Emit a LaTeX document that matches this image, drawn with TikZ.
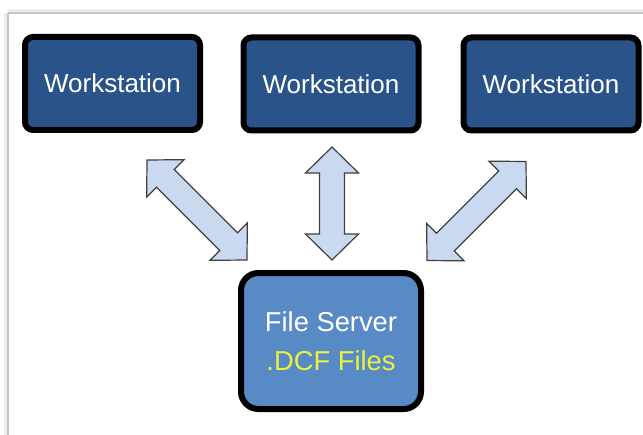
\documentclass[tikz,border=0pt]{standalone}
\usepackage{fontspec}
\setmainfont{Liberation Sans}
\definecolor{wsblue}{RGB}{42,84,137}
\definecolor{srvblue}{RGB}{88,138,198}
\definecolor{arrowfill}{RGB}{201,217,239}
\definecolor{arrowline}{RGB}{64,64,64}
\definecolor{dcfyellow}{RGB}{236,242,60}
\tikzset{
  wsbox/.style={draw=black, line width=4.5pt, fill=wsblue, rounded corners=6pt,
    minimum width=131.25pt, minimum height=69.75pt, inner sep=0pt,
    text=white, font=\fontsize{19.5}{23}\selectfont},
  srvbox/.style={draw=black, line width=4.5pt, fill=srvblue, rounded corners=13pt,
    minimum width=135pt, minimum height=102pt, inner sep=0pt,
    text=white, align=center, font=\fontsize{20.5}{29.25}\selectfont},
  blockarrow/.style={draw=arrowline, fill=arrowfill, line width=0.9pt, line join=miter},
  pics/dbl/.style={code={
    \draw[blockarrow] (-#1,0) -- (-#1+26,26.5) -- (-#1+26,12.5) -- (#1-26,12.5)
      -- (#1-26,26.5) -- (#1,0) -- (#1-26,-26.5) -- (#1-26,-12.5)
      -- (-#1+26,-12.5) -- (-#1+26,-26.5) -- cycle;
  }}
}
\begin{document}
\begin{tikzpicture}[x=0.75pt,y=-0.75pt]
\useasboundingbox (0,0) rectangle (643,435);
% card frame with soft shadow
\draw[gray!15, line width=3pt] (8,11) -- (643,11);
\draw[gray!15, line width=3pt] (6,13) -- (6,435);
\draw[gray!45, line width=1.2pt] (8,13) -- (643,13);
\draw[gray!45, line width=1.2pt] (8,13) -- (8,435);
% nodes
\node[wsbox] (w1) at (112.5,83.5) {Workstation};
\node[wsbox] (w2) at (331,84) {Workstation};
\node[wsbox] (w3) at (551,84) {Workstation};
\node[srvbox] (srv) at (331,341) {File Server\\\textcolor{dcfyellow}{.DCF Files}};
% block arrows
\pic[rotate=-45] (a1) at (197,210) {dbl=70.7};
\pic[rotate=90] (a2) at (332,203.5) {dbl=56.5};
\pic[rotate=45] (a3) at (476.5,211) {dbl=70};
\end{tikzpicture}
\end{document}
